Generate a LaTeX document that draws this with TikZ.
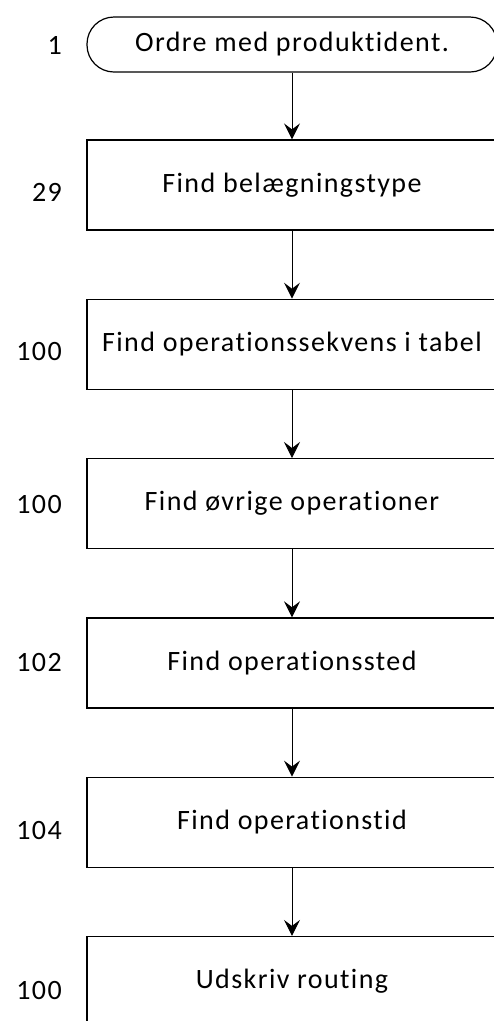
\documentclass[tikz,border=0pt]{standalone}
\usepackage{fontspec}
\setmainfont[Ligatures=NoCommon, LetterSpace=5]{Carlito}
\usetikzlibrary{arrows.meta}

\tikzset{
  stepbox/.style={draw, line width=1.2pt, minimum width=410pt, minimum height=90pt, inner sep=0pt, font=\fontsize{28}{32}\selectfont},
  startbox/.style={stepbox, minimum height=55pt, rounded corners=27pt},
  nr/.style={anchor=east, inner sep=0pt, font=\fontsize{28}{32}\selectfont},
  flow/.style={line width=1pt, -{Stealth[length=16pt, width=16pt, inset=6pt]}}
}

\begin{document}
\begin{tikzpicture}[x=1pt, y=-1pt]
  \clip (0,0) rectangle (494,1021);
  % steps
  \node[startbox] (start) at (292,44.5) {Ordre med produktident.};
  \node[stepbox] (type) at (292,185) {Find belægningstype};
  \node[stepbox] (sekv) at (292,344.3) {Find operationssekvens i tabel};
  \node[stepbox] (ovr) at (292,503.6) {Find øvrige operationer};
  \node[stepbox] (sted) at (292,662.9) {Find operationssted};
  \node[stepbox] (tid) at (292,822.2) {Find operationstid};
  \node[stepbox] (ud) at (292,981.5) {Udskriv routing};
  % numbers on the left
  \node[nr] (n1) at (62,45) {1};
  \node[nr] (n2) at (62,192) {29};
  \node[nr] (n3) at (62,352) {100};
  \node[nr] (n4) at (62,505) {100};
  \node[nr] (n5) at (62,663) {102};
  \node[nr] (n6) at (62,830) {104};
  \node[nr] (n7) at (62,990) {100};
  % arrows
  \draw[flow] (start) -- (type);
  \draw[flow] (type) -- (sekv);
  \draw[flow] (sekv) -- (ovr);
  \draw[flow] (ovr) -- (sted);
  \draw[flow] (sted) -- (tid);
  \draw[flow] (tid) -- (ud);
\end{tikzpicture}
\end{document}
